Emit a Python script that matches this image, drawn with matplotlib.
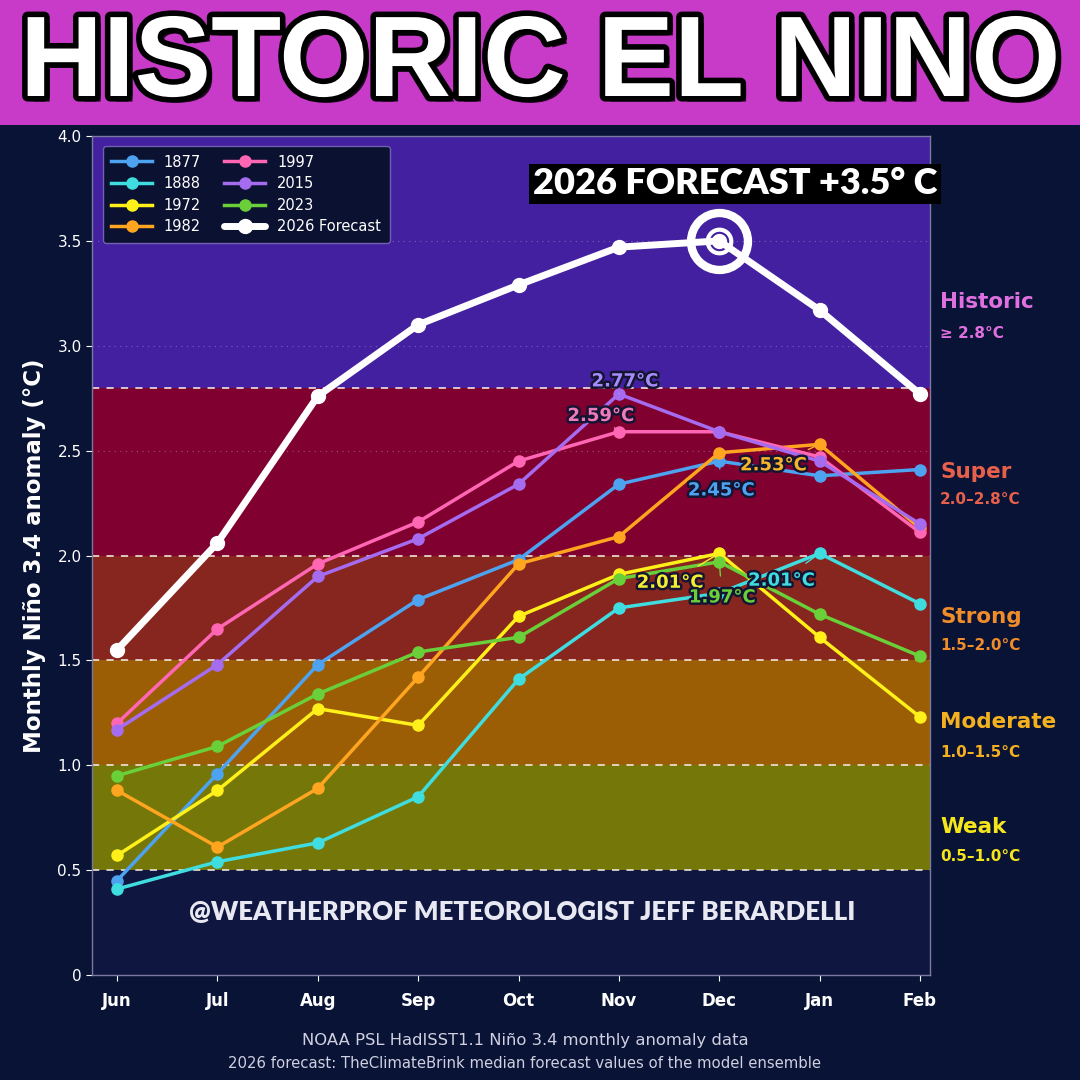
import matplotlib
matplotlib.use("Agg")
import matplotlib.pyplot as plt
import matplotlib.patheffects as pe
from matplotlib.transforms import blended_transform_factory

months = ["Jun", "Jul", "Aug", "Sep", "Oct", "Nov", "Dec", "Jan", "Feb"]
y1877 = [0.45, 0.96, 1.48, 1.79, 1.98, 2.34, 2.45, 2.38, 2.41]
y1888 = [0.41, 0.54, 0.63, 0.85, 1.41, 1.75, 1.82, 2.01, 1.77]
y1972 = [0.57, 0.88, 1.27, 1.19, 1.71, 1.91, 2.01, 1.61, 1.23]
y1982 = [0.88, 0.61, 0.89, 1.42, 1.96, 2.09, 2.49, 2.53, 2.13]
y1997 = [1.20, 1.65, 1.96, 2.16, 2.45, 2.59, 2.59, 2.47, 2.11]
y2015 = [1.17, 1.48, 1.90, 2.08, 2.34, 2.77, 2.59, 2.45, 2.15]
y2023 = [0.95, 1.09, 1.34, 1.54, 1.61, 1.89, 1.97, 1.72, 1.52]
y2026 = [1.55, 2.06, 2.76, 3.10, 3.29, 3.47, 3.50, 3.17, 2.77]

series_names = ["1877", "1888", "1972", "1982", "1997", "2015", "2023", "2026 Forecast"]
series_vals = [y1877, y1888, y1972, y1982, y1997, y2015, y2023, y2026]
series_colors = ["#4da3f0", "#3fdde0", "#fff01a", "#ffa51f", "#ff66b3", "#a66cf0", "#6ad03a", "#ffffff"]

band_names = ["Weak", "Moderate", "Strong", "Super", "Historic"]
band_ranges = ["0.5–1.0°C", "1.0–1.5°C", "1.5–2.0°C", "2.0–2.8°C", "≥ 2.8°C"]
band_lo = [0.5, 1.0, 1.5, 2.0, 2.8]
band_hi = [1.0, 1.5, 2.0, 2.8, 4.0]
band_fill = ["#757708", "#9b5e05", "#87261f", "#800030", "#43209f"]
band_text = ["#f5e51b", "#f5b020", "#f08c2a", "#e8604a", "#e070e0"]

yticks = [0, 0.5, 1.0, 1.5, 2.0, 2.5, 3.0, 3.5, 4.0]
ytick_labels = ["0", "0.5", "1.0", "1.5", "2.0", "2.5", "3.0", "3.5", "4.0"]

BG = "#081336"
AXBG = "#0f1640"

fig = plt.figure(figsize=(10.8, 10.8), dpi=100, facecolor=BG)
ax = fig.add_axes([92/1080, 105/1080, 838/1080, 839/1080], facecolor=AXBG)

x = list(range(len(months)))
ax.set_xlim(-0.25, 8.1)
ax.set_ylim(0, 4.0)

for lo, hi, c in zip(band_lo, band_hi, band_fill):
    ax.axhspan(lo, hi, color=c, zorder=0, lw=0)
for lo in band_lo:
    ax.axhline(lo, color="#f0e8e0", ls=(0, (4, 4)), lw=1.3, zorder=1, alpha=0.9)
for g in [2.5, 3.0, 3.5]:
    ax.axhline(g, color="#b0a0d0", ls=(0, (1, 4)), lw=0.8, zorder=1, alpha=0.5)

for name, vals, col in zip(series_names, series_vals, series_colors):
    if name.startswith("2026"):
        ax.plot(x, vals, color=col, lw=5, marker="o", ms=10, zorder=6, label=name,
                solid_capstyle="round")
    else:
        ax.plot(x, vals, color=col, lw=2.5, marker="o", ms=8, zorder=4, label=name)

# peak ring on forecast
pk = max(range(len(y2026)), key=lambda i: y2026[i])
ax.plot(x[pk], y2026[pk], marker="o", ms=41, mfc="none", mec="white", mew=6, zorder=7)
ax.plot(x[pk], y2026[pk], marker="o", ms=17, mfc="none", mec="white", mew=3, zorder=7)

# peak labels
lab_specs = [
    (y2015, "#a78bfa", 5, (5.06, 2.83)),
    (y1997, "#f07ab8", 5, (4.82, 2.665)),
    (y1877, "#4da3f0", 6, (6.02, 2.31)),
    (y1982, "#f5b42a", 7, (6.54, 2.43)),
    (y1972, "#f5ee30", 6, (5.51, 1.87)),
    (y2023, "#6ad03a", 6, (6.03, 1.80)),
    (y1888, "#3fdde0", 7, (6.62, 1.88)),
]
for vals, col, idx, pos in lab_specs:
    ax.annotate(f"{vals[idx]:.2f}°C", xy=(x[idx], vals[idx]), xytext=pos,
                ha="center", va="center", fontsize=13, fontweight="bold", color=col,
                zorder=8,
                arrowprops=dict(arrowstyle="-", color=col, lw=1.0, shrinkA=7, shrinkB=3),
                path_effects=[pe.withStroke(linewidth=3.5, foreground="#141433")])

# band labels on right
tr = blended_transform_factory(ax.transAxes, ax.transData)
name_y = [0.706, 1.206, 1.707, 2.40, 3.21]
range_y = [0.5626, 1.063, 1.569, 2.265, 3.06]
for nm, rg, ny, ry, c in zip(band_names, band_ranges, name_y, range_y, band_text):
    ax.text(1.012, ny, nm, transform=tr, color=c, fontsize=15.5, fontweight="bold",
            ha="left", va="center", clip_on=False)
    ax.text(1.012, ry, rg, transform=tr, color=c, fontsize=11, fontweight="bold",
            ha="left", va="center", clip_on=False)

ax.set_xticks(x)
ax.set_xticklabels(months, fontsize=12, fontweight="bold", color="white")
ax.set_yticks(yticks)
ax.set_yticklabels(ytick_labels, fontsize=11, color="white")
ax.tick_params(axis="both", colors="white", length=4)
ax.tick_params(axis="x", pad=8)
ax.set_ylabel("Monthly Niño 3.4 anomaly (°C)", fontsize=16.5, fontweight="bold",
              color="white", labelpad=8)
for s in ax.spines.values():
    s.set_color("#7a7aa0")
    s.set_linewidth(1)

leg = ax.legend(loc="upper left", ncol=2, fontsize=10.5, frameon=True,
                facecolor="#0b1130", edgecolor="#7060b0", labelcolor="white",
                bbox_to_anchor=(0.004, 0.997), borderpad=0.6, handlelength=2.8,
                columnspacing=1.6, labelspacing=0.45)
leg.get_frame().set_alpha(1)
leg.set_zorder(10)

# watermark
ax.text(0.513, 0.075, "@WEATHERPROF METEOROLOGIST JEFF BERARDELLI",
        transform=ax.transAxes, ha="center", va="center", fontsize=18.5,
        fontweight="heavy", family=["Lato", "DejaVu Sans"], color="#e8e8f2", zorder=3)

# forecast box
fig.text(735/1080, 1 - 184/1080, "2026 FORECAST +3.5° C", ha="center", va="center",
         fontsize=26, fontweight="heavy", family=["Lato", "DejaVu Sans"], color="white",
         bbox=dict(boxstyle="square,pad=0.1", fc="black", ec="none"), zorder=20)

# footer
fig.text(525/1080, 1 - 1040/1080, "NOAA PSL HadISST1.1 Niño 3.4 monthly anomaly data",
         ha="center", va="center", fontsize=11.8, color="#d0d0e0")
fig.text(524/1080, 1 - 1064/1080,
         "2026 forecast: TheClimateBrink median forecast values of the model ensemble",
         ha="center", va="center", fontsize=10.7, color="#d0d0e0")

# title banner
fig.patches.append(plt.Rectangle((0, 1 - 125/1080), 1, 125/1080, transform=fig.transFigure,
                                 facecolor="#c83ac8", edgecolor="none", zorder=0))
title = fig.text(0.5, 1 - 96/1080, "HISTORIC EL NINO", ha="center", va="baseline",
                 fontsize=85, fontweight="bold",
                 family=["Liberation Sans", "DejaVu Sans"],
                 color="white", zorder=5,
                 path_effects=[pe.withSimplePatchShadow(offset=(4, -4), shadow_rgbFace="black", alpha=0.85),
                               pe.withStroke(linewidth=8, foreground="black")])
fig.canvas.draw()
r = fig.canvas.get_renderer()
w = title.get_window_extent(r).width
title.set_fontsize(85 * 1040 / w)

fig.savefig("out.png", dpi=100, facecolor=BG)
